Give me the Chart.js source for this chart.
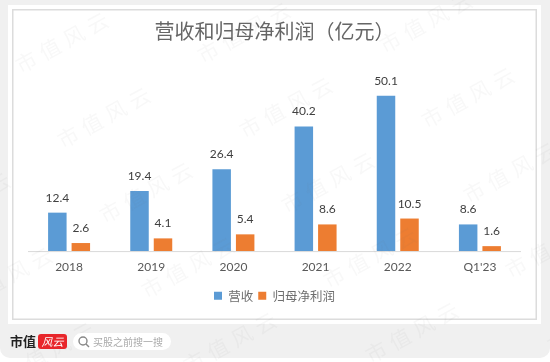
<!DOCTYPE html>
<html>
<head>
<meta charset="utf-8">
<style>
	html, body { margin: 0; padding: 0; background: #fff; }
	#page { position: relative; width: 550px; height: 362px; overflow: hidden; background: #fff; }
	#back { position: absolute; left: 0; top: 0; width: 550px; height: 358px; background: #f0f0f0; border-radius: 0 0 10px 10px; }
	#card { position: absolute; left: 8px; top: 5px; width: 525px; height: 311px; background: #fff; border: 4px solid #fff; box-shadow: inset 0 0 0 1.5px #dcdcdc; }
	#chart { position: absolute; left: 0; top: 0; }
	#brand { position: absolute; left: 10px; top: 332px; font: bold 13px/18px "Noto Sans CJK SC"; color: #222; }
	#badge { position: absolute; left: 38px; top: 334px; width: 29px; height: 15px; border-radius: 3px; background: #e8262b; color: #fff; font: italic 11px/15px "Noto Sans CJK SC"; text-align: center; }
	#search { position: absolute; left: 73px; top: 333px; width: 98px; height: 17px; border-radius: 9px; background: #fff; color: #aaa; font: 10px/17px "Noto Sans CJK SC"; text-indent: 20px; }
	#search svg { position: absolute; left: 4px; top: 2px; }
</style>
</head>
<body>
<div id="page">
	<div id="back"></div>
	<div id="card"></div>
	<canvas id="chart" width="550" height="362"></canvas>
	<div id="brand">市值</div>
	<div id="badge">风云</div>
	<div id="search">买股之前搜一搜
		<svg width="14" height="14" viewBox="0 0 14 14"><circle cx="6" cy="6" r="4" fill="none" stroke="#888" stroke-width="1.4"/><path d="M9 9l3 3" stroke="#888" stroke-width="1.4"/></svg>
	</div>
</div>
<script src="https://cdn.jsdelivr.net/npm/chart.js@4"></script>
<script>
const categories = ['2018', '2019', '2020', '2021', '2022', "Q1'23"];
const revenue = [12.4, 19.4, 26.4, 40.2, 50.1, 8.6];
const netProfit = [2.6, 4.1, 5.4, 8.6, 10.5, 1.6];

Chart.defaults.animation = false;

const cjk = '"Noto Sans CJK SC"';

// bar value labels
const valueLabels = {
	id: 'valueLabels',
	afterDatasetsDraw(chart) {
		const ctx = chart.ctx;
		ctx.save();
		ctx.font = '12px Lato';
		ctx.fillStyle = '#404040';
		ctx.textAlign = 'center';
		ctx.textBaseline = 'alphabetic';
		chart.data.datasets.forEach((ds, i) => {
			chart.getDatasetMeta(i).data.forEach((bar, j) => {
				ctx.fillText(ds.data[j].toFixed(1), bar.x, bar.y - 11);
			});
		});
		ctx.restore();
	},
};

// baseline under the bars
const baseline = {
	id: 'baseline',
	beforeDatasetsDraw(chart) {
		const { ctx, chartArea, scales } = chart;
		ctx.save();
		ctx.strokeStyle = '#d9d9d9';
		ctx.lineWidth = 1;
		ctx.beginPath();
		ctx.moveTo(chartArea.left, scales.y.getPixelForValue(0) + 0.5);
		ctx.lineTo(chartArea.right, scales.y.getPixelForValue(0) + 0.5);
		ctx.stroke();
		ctx.restore();
	},
};

// 市值风云 watermark
const watermark = {
	id: 'watermark',
	afterDraw(chart) {
		const ctx = chart.ctx;
		ctx.save();
		ctx.font = '21px ' + cjk;
		ctx.letterSpacing = '6px';
		ctx.fillStyle = 'rgba(120,120,120,0.05)';
		ctx.textBaseline = 'middle';
		for (let i = -2; i < 5; i++) {
			for (let j = -2; j < 7; j++) {
				ctx.save();
				ctx.translate(17 + 182 * i + 42 * j, 67 - 10 * i + 75 * j);
				ctx.rotate(-0.5);
				ctx.fillText('市值风云', 0, 0);
				ctx.restore();
			}
		}
		ctx.restore();
	},
};

new Chart(document.getElementById('chart'), {
	type: 'bar',
	data: {
		labels: categories,
		datasets: [
			{ label: '营收', data: revenue, backgroundColor: '#5b9bd5' },
			{ label: '归母净利润', data: netProfit, backgroundColor: '#ed7d31' },
		],
	},
	options: {
		responsive: false,
		layout: { padding: { left: 28, right: 29, top: 0, bottom: 50 } },
		datasets: { bar: { categoryPercentage: 0.572, barPercentage: 0.787 } },
		scales: {
			x: {
				grid: { display: false },
				border: { display: false },
				ticks: { color: '#595959', font: { family: 'Lato', size: 12 }, padding: 1, maxRotation: 0 },
				afterFit(scale) {
					// room between the tick labels and the legend
					scale.height += 9;
				},
			},
			y: { display: false, min: 0, max: 64.2 },
		},
		plugins: {
			title: {
				display: true,
				text: '营收和归母净利润（亿元）',
				color: '#666666',
				font: { family: cjk, size: 20, weight: 'normal' },
				padding: { top: 19, bottom: 9 },
			},
			legend: {
				position: 'bottom',
				labels: {
					color: '#6e6e6e',
					font: { family: cjk, size: 12.5 },
					boxWidth: 8,
					boxHeight: 8,
					padding: 5,
				},
			},
			tooltip: { enabled: false },
		},
	},
	plugins: [baseline, valueLabels, watermark],
});
</script>
</body>
</html>
